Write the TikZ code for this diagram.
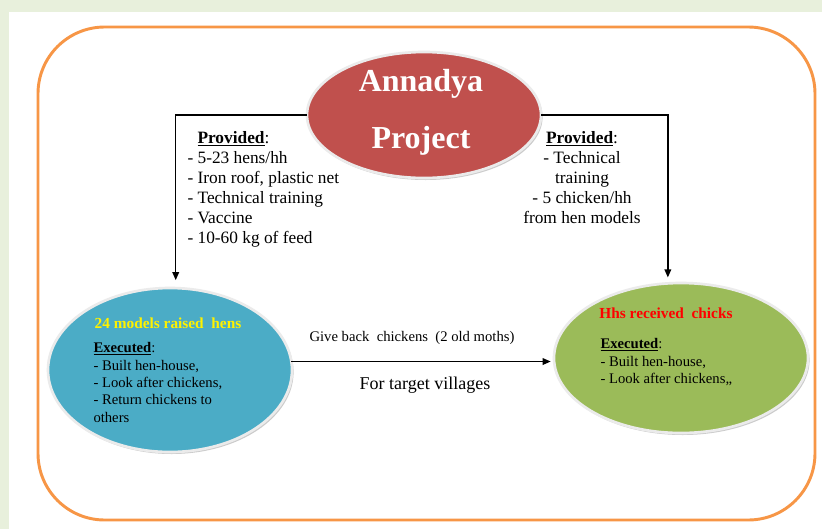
\documentclass[tikz,border=0pt]{standalone}
\usepackage{fontspec}
\setmainfont{Liberation Serif}
\usetikzlibrary{shapes.geometric,arrows.meta,shadows}

\definecolor{panelgreen}{RGB}{232,240,220}
\definecolor{frameorange}{RGB}{247,150,70}
\definecolor{projred}{RGB}{192,80,77}
\definecolor{modelblue}{RGB}{75,172,198}
\definecolor{hhsgreen}{RGB}{155,187,89}

\tikzset{every picture/.style={line width=0.75pt}}
\tikzset{
  bubble/.style={ellipse, inner sep=0pt, outer sep=0pt, draw=black!8, line width=2pt,
    drop shadow={shadow xshift=1.2pt, shadow yshift=-1.5pt, fill=black!40, opacity=0.5}},
  flow/.style={draw=black, line width=1pt, -{Triangle[length=6pt,width=5pt]}},
  body/.style={inner sep=0pt, font=\fontsize{13}{15}\selectfont},
  small/.style={inner sep=0pt, font=\fontsize{11}{13}\selectfont},
  heading/.style={inner sep=0pt, font=\fontsize{11.5}{13}\selectfont\bfseries},
}

\begin{document}
\begin{tikzpicture}[x=0.75pt,y=0.75pt,yscale=-1,xscale=1]
    \useasboundingbox (0,0) rectangle (822,529);
    
    %Shape: Background
    \fill [panelgreen] (0,0) rectangle (822,529);
    \fill [white] (9,12) rectangle (822,529);
    %Shape: Rounded Rectangle
    \draw [frameorange, line width=2.2pt, rounded corners=50pt] (38,27) rectangle (815,520);
    
    %Shape: Ellipse
    \node (annadya) at (424,115) [bubble, fill=projred, minimum width=175.5pt, minimum height=94.5pt] {};
    %Shape: Ellipse
    \node (models) at (170,370) [bubble, fill=modelblue, minimum width=183pt, minimum height=123pt] {};
    %Shape: Ellipse
    \node (hhs) at (681,358) [bubble, fill=hhsgreen, minimum width=190.5pt, minimum height=112.5pt] {};
    
    %Straight Lines
    \draw [flow, shorten >=6pt] (annadya.west) -| (models.86);
    \draw [flow, shorten >=4.5pt] (annadya.east) -| (hhs.100);
    \draw [flow, shorten >=2.5pt] (models.4) -- (models.4 -| hhs.west);
    
    % Text Node
    \node (projtitle) at (421,112) [inner sep=0pt, text=white, align=center, font=\fontsize{24}{43}\selectfont\bfseries] {Annadya\\Project};
    % Text Node
    \node (provleft) at (187,131) [body, anchor=north west, align=left] {\hspace*{7.5pt}\underline{\textbf{Provided}}:\\- 5-23 hens/hh\\- Iron roof, plastic net\\- Technical training\\- Vaccine\\- 10-60 kg of feed};
    % Text Node
    \node (provright) at (582,131) [body, anchor=north, align=center] {\underline{\textbf{Provided}}:\\- Technical\\training\\- 5 chicken/hh\\from hen models};
    % Text Node
    \node (modelstitle) at (168,323) [heading, text=yellow] {24 models raised\ \ hens};
    % Text Node
    \node (modelsdone) at (93,342) [small, anchor=north west, align=left] {\underline{\textbf{Executed}}:\\- Built hen-house,\\- Look after chickens,\\- Return chickens to\\others};
    % Text Node
    \node (hhstitle) at (666,313) [heading, text=red] {Hhs received\ \ chicks};
    % Text Node
    \node (hhsdone) at (600,338) [small, anchor=north west, align=left] {\underline{\textbf{Executed}}:\\- Built hen-house,\\- Look after chickens,,};
    % Text Node
    \node (giveback) at (412,338) [small] {Give back\ \ chickens\ \ (2 old moths)};
    % Text Node
    \node (villages) at (425,385) [inner sep=0pt, font=\fontsize{13.5}{16}\selectfont] {For target villages};
    
\end{tikzpicture}
\end{document}
